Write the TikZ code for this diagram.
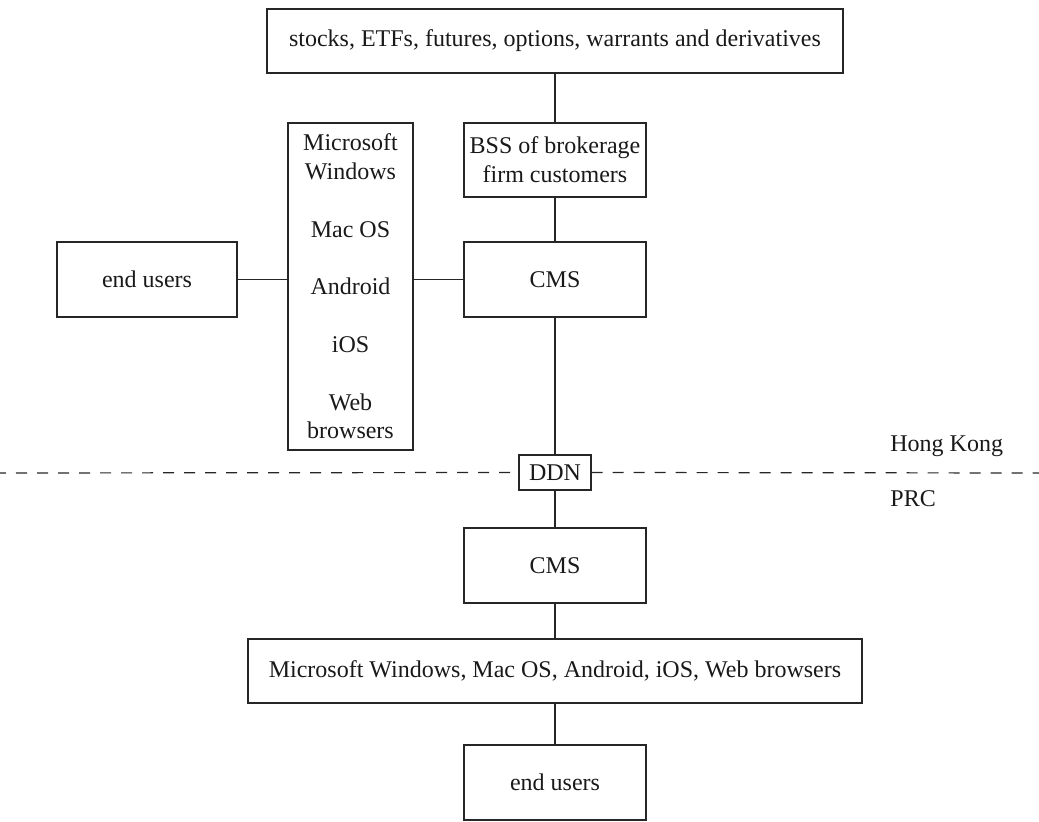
\documentclass[tikz,border=0pt]{standalone}
\usepackage{fontspec}
\setmainfont{Liberation Serif}
\begin{document}
\begin{tikzpicture}[x=0.5pt,y=-0.5pt,
  box/.style={draw=black!85, line width=0.6pt, inner sep=0pt, align=center,
    font=\fontsize{12}{14.4}\selectfont, text=black!90},
  link/.style={draw=black!85, line width=0.6pt},
  region/.style={font=\fontsize{12}{14.4}\selectfont, text=black!90, inner sep=0pt, anchor=base west}]
\useasboundingbox (0,0) rectangle (1039,822);
\node[box, minimum width=288pt, minimum height=32pt] (top) at (555,41)
  {stocks, ETFs, futures, options, warrants and derivatives};
\node[box, minimum width=91pt, minimum height=37pt] (bss) at (555,160)
  {BSS of brokerage\\firm customers};
\node[box, minimum width=62.5pt, minimum height=163.5pt] (plat) at (350.5,286.5)
  {Microsoft\\Windows\\[14.4pt]Mac OS\\[14.4pt]Android\\[14.4pt]iOS\\[14.4pt]Web\\browsers};
\node[box, minimum width=90pt, minimum height=37.5pt] (eu1) at (147,279.5) {end users};
\node[box, minimum width=91pt, minimum height=37.5pt] (cms1) at (555,279.5) {CMS};
\node[box, minimum width=36pt, minimum height=17.5pt, fill=white] (ddn) at (555,472.5) {DDN};
\node[box, minimum width=91pt, minimum height=37.5pt] (cms2) at (555,565.5) {CMS};
\node[box, minimum width=307pt, minimum height=32pt] (wide) at (555,671)
  {Microsoft Windows, Mac OS, Android, iOS, Web browsers};
\node[box, minimum width=91pt, minimum height=37.5pt] (eu2) at (555,782.5) {end users};
\node[region] (hk) at (890,452) {Hong Kong};
\node[region] (prc) at (890,507) {PRC};
\coordinate (dl) at (0,473);
\coordinate (dr) at (1039,473);
\draw[link, dash pattern=on 5.5pt off 5pt, dash phase=2.5pt] (dl) -- (ddn.west);
\draw[link, dash pattern=on 5.5pt off 5pt] (ddn.east) -- (dr);
\draw[link] (top.south) -- (bss.north);
\draw[link] (bss.south) -- (cms1.north);
\draw[link] (cms1.south) -- (ddn.north);
\draw[link] (ddn.south) -- (cms2.north);
\draw[link] (cms2.south) -- (wide.north);
\draw[link] (wide.south) -- (eu2.north);
\draw[link] (eu1.east) -- (eu1.east -| plat.west);
\draw[link] (plat.east |- cms1.west) -- (cms1.west);
\end{tikzpicture}
\end{document}
